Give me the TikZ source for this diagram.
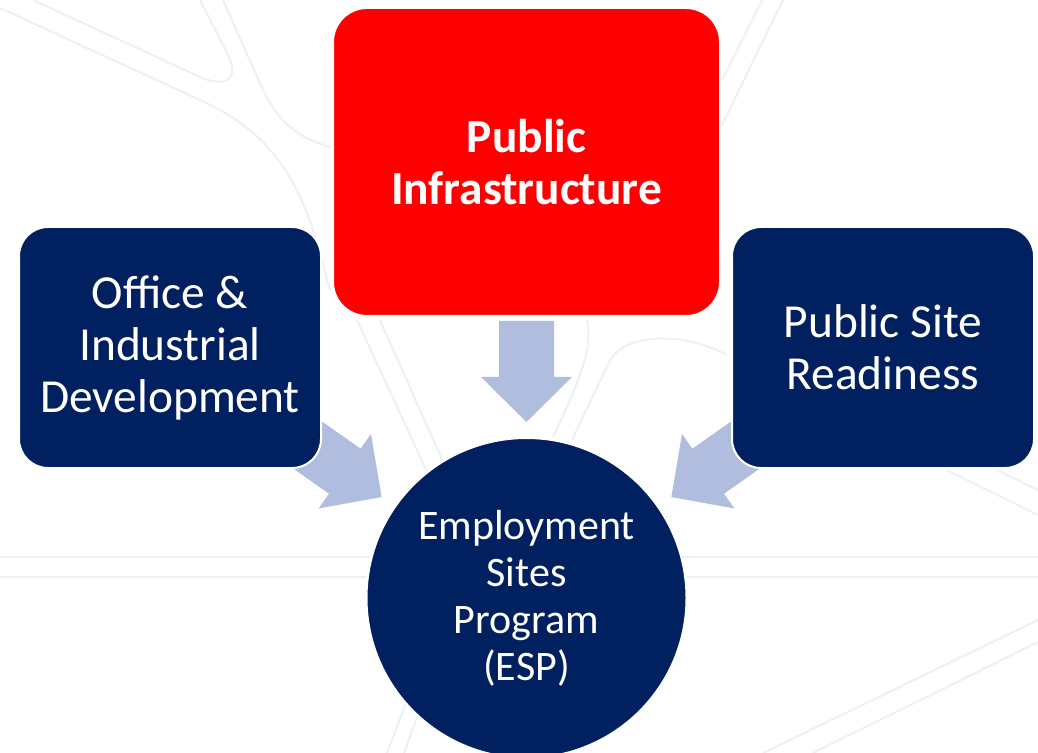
\documentclass[tikz,border=0pt]{standalone}
\usepackage{fontspec}
\setmainfont{Carlito}
\usetikzlibrary{calc}
\definecolor{navy}{RGB}{0,32,96}
\definecolor{pired}{RGB}{255,0,0}
\definecolor{arrowblue}{RGB}{176,189,222}
\definecolor{bgline}{RGB}{236,241,248}
\pgfdeclarelayer{bg}
\pgfsetlayers{bg,main}
\tikzset{
  box/.style={draw=white, line width=1pt, rounded corners=14.5pt, text=white, align=center,
    font=\fontsize{23.7}{26}\selectfont, inner sep=0pt},
  bigbox/.style={box, rounded corners=17pt, font=\fontsize{23.7}{26}\selectfont\bfseries},
  hub/.style={circle, draw=white, line width=1pt, fill=navy, text=white, align=center,
    minimum size=160pt, inner sep=0pt, font=\fontsize{21}{23.5}\selectfont},
  bgcurve/.style={draw=bgline, line width=1pt},
  blockarrow/.pic={\fill[arrowblue] (0,-27.5) -- (56,-27.5) -- (56,-45.5) -- (101,0)
    -- (56,45.5) -- (56,27.5) -- (0,27.5) -- cycle;}
}
\begin{document}
\begin{tikzpicture}[x=0.5pt,y=-0.5pt]
\useasboundingbox (0,0) rectangle (1038,753);

% nodes
\node[bigbox, fill=pired, minimum width=193.5pt, minimum height=154pt] (pi) at (526.5,162) {Public\\Infrastructure};
\node[box, fill=navy, minimum width=151pt, minimum height=120.5pt] (oi) at (170,347.5) {Office \&\\Industrial\\Development};
\node[box, fill=navy, minimum width=151pt, minimum height=120.5pt] (ps) at (883,347.5) {Public Site\\Readiness};
\node[hub] (esp) at (526.5,598) {Employment\\Sites\\Program\\(ESP)};

\begin{pgfonlayer}{bg}
\fill[white] (0,0) rectangle (1038,753);
% faint background texture
\draw[bgcurve] (33,0) -- (200,77) .. controls (225,88) and (240,80) .. (228,55) -- (200,0);
\draw[bgcurve] (0,8) -- (200,100) .. controls (255,125) and (290,160) .. (313,230) -- (330,290);
\draw[bgcurve] (223,0) -- (263,90) .. controls (280,125) and (300,138) .. (330,147);
\draw[bgcurve] (762,0) -- (722,80);
\draw[bgcurve] (783,0) -- (722,125);
\draw[bgcurve] (357,320) -- (440,500);
\draw[bgcurve] (380,320) -- (460,500);
\draw[bgcurve] (587,320) .. controls (592,345) and (585,370) .. (553,437);
\draw[bgcurve] (572,440) -- (610,360) .. controls (625,335) and (680,330) .. (727,355);
\draw[bgcurve] (0,557) -- (1038,557);
\draw[bgcurve] (0,577) -- (1038,577);
\draw[bgcurve] (1038,620) -- (763,753);
\draw[bgcurve] (1038,642) -- (813,753);
\draw[bgcurve] (947,470) -- (1038,515);
\draw[bgcurve] (997,470) -- (1038,490);
\draw[bgcurve] (387,753) -- (430,640);
\draw[bgcurve] (404,753) -- (445,640);
% block arrows
\pic[rotate=-90] at ($(pi.south)+(0,4)$) {blockarrow};
\pic[rotate=-35.1] at ($(esp.center)+(-227.5,-159)$) {blockarrow};
\pic[rotate=-144.9] at ($(esp.center)+(227.5,-159)$) {blockarrow};
\end{pgfonlayer}
\end{tikzpicture}
\end{document}
